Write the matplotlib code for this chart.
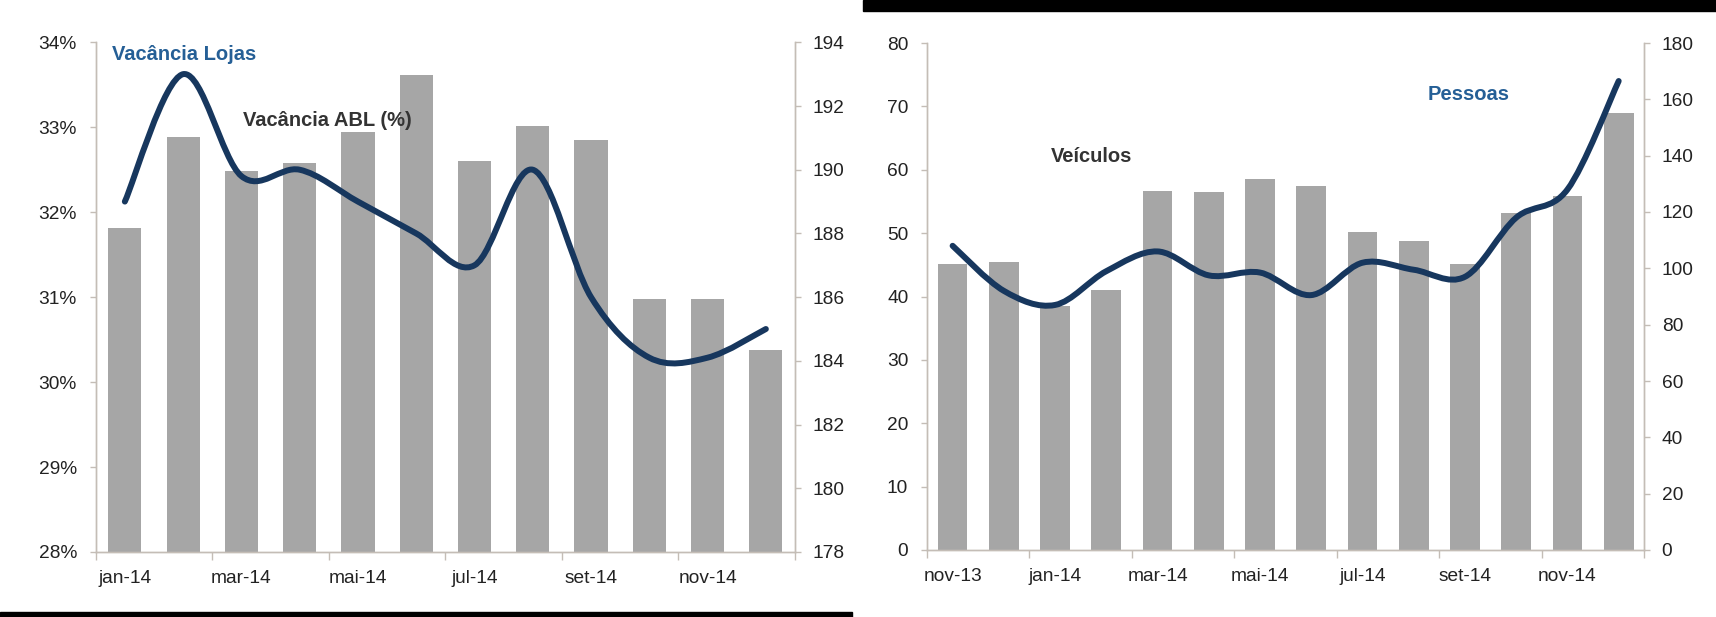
import numpy as np
import matplotlib.pyplot as plt
from matplotlib.path import Path
from matplotlib.patches import PathPatch, Rectangle

plt.rcParams['font.family'] = ['Liberation Sans', 'DejaVu Sans']

# left chart: vacancia
meses_l = ['jan-14', 'fev-14', 'mar-14', 'abr-14', 'mai-14', 'jun-14',
           'jul-14', 'ago-14', 'set-14', 'out-14', 'nov-14', 'dez-14']
vac_abl = [31.81, 32.88, 32.48, 32.58, 32.94, 33.61,
           32.60, 33.01, 32.85, 30.98, 30.98, 30.38]
vac_lojas = [189.0, 193.0, 189.8, 190.0, 189.0, 188.0,
             187.0, 190.0, 186.0, 184.1, 184.1, 185.0]

# right chart: fluxo
meses_r = ['nov-13', 'dez-13', 'jan-14', 'fev-14', 'mar-14', 'abr-14', 'mai-14',
           'jun-14', 'jul-14', 'ago-14', 'set-14', 'out-14', 'nov-14', 'dez-14']
veiculos = [45.2, 45.5, 38.5, 41.1, 56.7, 56.5, 58.6,
            57.5, 50.2, 48.8, 45.2, 53.1, 55.9, 69.0]
pessoas = [108.0, 92.0, 87.0, 99.0, 106.0, 97.5, 98.5,
           90.5, 102.0, 99.5, 97.0, 118.0, 128.0, 166.5]

W, H = 1716, 617
bar_c = '#a6a6a6'
line_c = '#17375e'
blue_txt = '#255f96'
ax_c = '#c4bdb6'
tick_fs = 13.8


def smooth_path(xs, ys):
    # bezier segments like excel's smoothed line
    pts = np.column_stack([xs, ys]).astype(float)
    n = len(pts)
    verts = [pts[0]]
    codes = [Path.MOVETO]
    for i in range(n - 1):
        p0 = pts[max(i - 1, 0)]
        p1 = pts[i]
        p2 = pts[i + 1]
        p3 = pts[min(i + 2, n - 1)]
        verts += [p1 + (p2 - p0) / 6, p2 - (p3 - p1) / 6, p2]
        codes += [Path.CURVE4] * 3
    return Path(verts, codes)


def px_axes(fig, x0, y0, x1, y1):
    return fig.add_axes([x0 / W, 1 - y1 / H, (x1 - x0) / W, (y1 - y0) / H])


def style(ax, ax2, n):
    for a in (ax, ax2):
        for s in a.spines.values():
            s.set_color(ax_c)
            s.set_linewidth(1.0)
        a.spines['top'].set_visible(False)
    ax.tick_params(axis='y', colors=ax_c, labelcolor='#222222', labelsize=tick_fs,
                   length=4.5, width=1, pad=9)
    ax2.tick_params(axis='y', colors=ax_c, labelcolor='#222222', labelsize=tick_fs,
                    length=4.5, width=1, pad=8)
    ax.set_xlim(-0.5, n - 0.5)
    ax.set_xticks(np.arange(0, n - 1, 2))
    ax.set_xticks(np.arange(-0.5, n, 2), minor=True)
    ax.tick_params(axis='x', which='major', length=0, labelsize=tick_fs,
                   labelcolor='#222222', pad=13)
    ax.tick_params(axis='x', which='minor', length=6, width=1, colors=ax_c)


fig = plt.figure(figsize=(W / 100, H / 100), dpi=100)

# ---- left chart
ax = px_axes(fig, 95.7, 42.3, 795, 552)
ax2 = ax.twinx()
x = np.arange(len(meses_l))
ax.bar(x, vac_abl, width=0.57, color=bar_c, zorder=2)
ax.set_ylim(28, 34)
ax.set_yticks(np.arange(28, 34.1, 1))
ax.set_yticklabels([f'{v:.0f}%' for v in np.arange(28, 34.1, 1)])
ax2.set_ylim(178, 194)
ax2.set_yticks(np.arange(178, 194.1, 2))
ax2.add_patch(PathPatch(smooth_path(x, vac_lojas), fc='none', ec=line_c,
                        lw=4.3, capstyle='round', joinstyle='round'))
style(ax, ax2, len(meses_l))
ax.set_xticklabels(meses_l[::2])

# ---- right chart
bx = px_axes(fig, 927, 43, 1644.3, 550)
bx2 = bx.twinx()
x = np.arange(len(meses_r))
bx.bar(x, veiculos, width=0.58, color=bar_c, zorder=2)
bx.set_ylim(0, 80)
bx.set_yticks(np.arange(0, 81, 10))
bx2.set_ylim(0, 180)
bx2.set_yticks(np.arange(0, 181, 20))
bx2.add_patch(PathPatch(smooth_path(x, pessoas), fc='none', ec=line_c,
                        lw=4.3, capstyle='round', joinstyle='round'))
style(bx, bx2, len(meses_r))
bx.set_xticklabels(meses_r[::2])

# labels inside the charts
fs = 14.5
fig.text(112 / W, 1 - 55 / H, 'Vacância Lojas', color=blue_txt, fontsize=fs,
         fontweight='bold', va='center', ha='left')
fig.text(243 / W, 1 - 120 / H, 'Vacância ABL (%)', color='#333333', fontsize=fs,
         fontweight='bold', va='center', ha='left')
fig.text(1051 / W, 1 - 156 / H, 'Veículos', color='#333333', fontsize=fs,
         fontweight='bold', va='center', ha='left')
fig.text(1428 / W, 1 - 95 / H, 'Pessoas', color=blue_txt, fontsize=fs,
         fontweight='bold', va='center', ha='left')

# black separator bars
fig.patches.append(Rectangle((862.7 / W, 1 - 10.7 / H), (W - 862.7) / W, 10.7 / H,
                             transform=fig.transFigure, color='black'))
fig.patches.append(Rectangle((0, 0), 851.7 / W, 5 / H,
                             transform=fig.transFigure, color='black'))

fig.savefig('out.png', dpi=100)
